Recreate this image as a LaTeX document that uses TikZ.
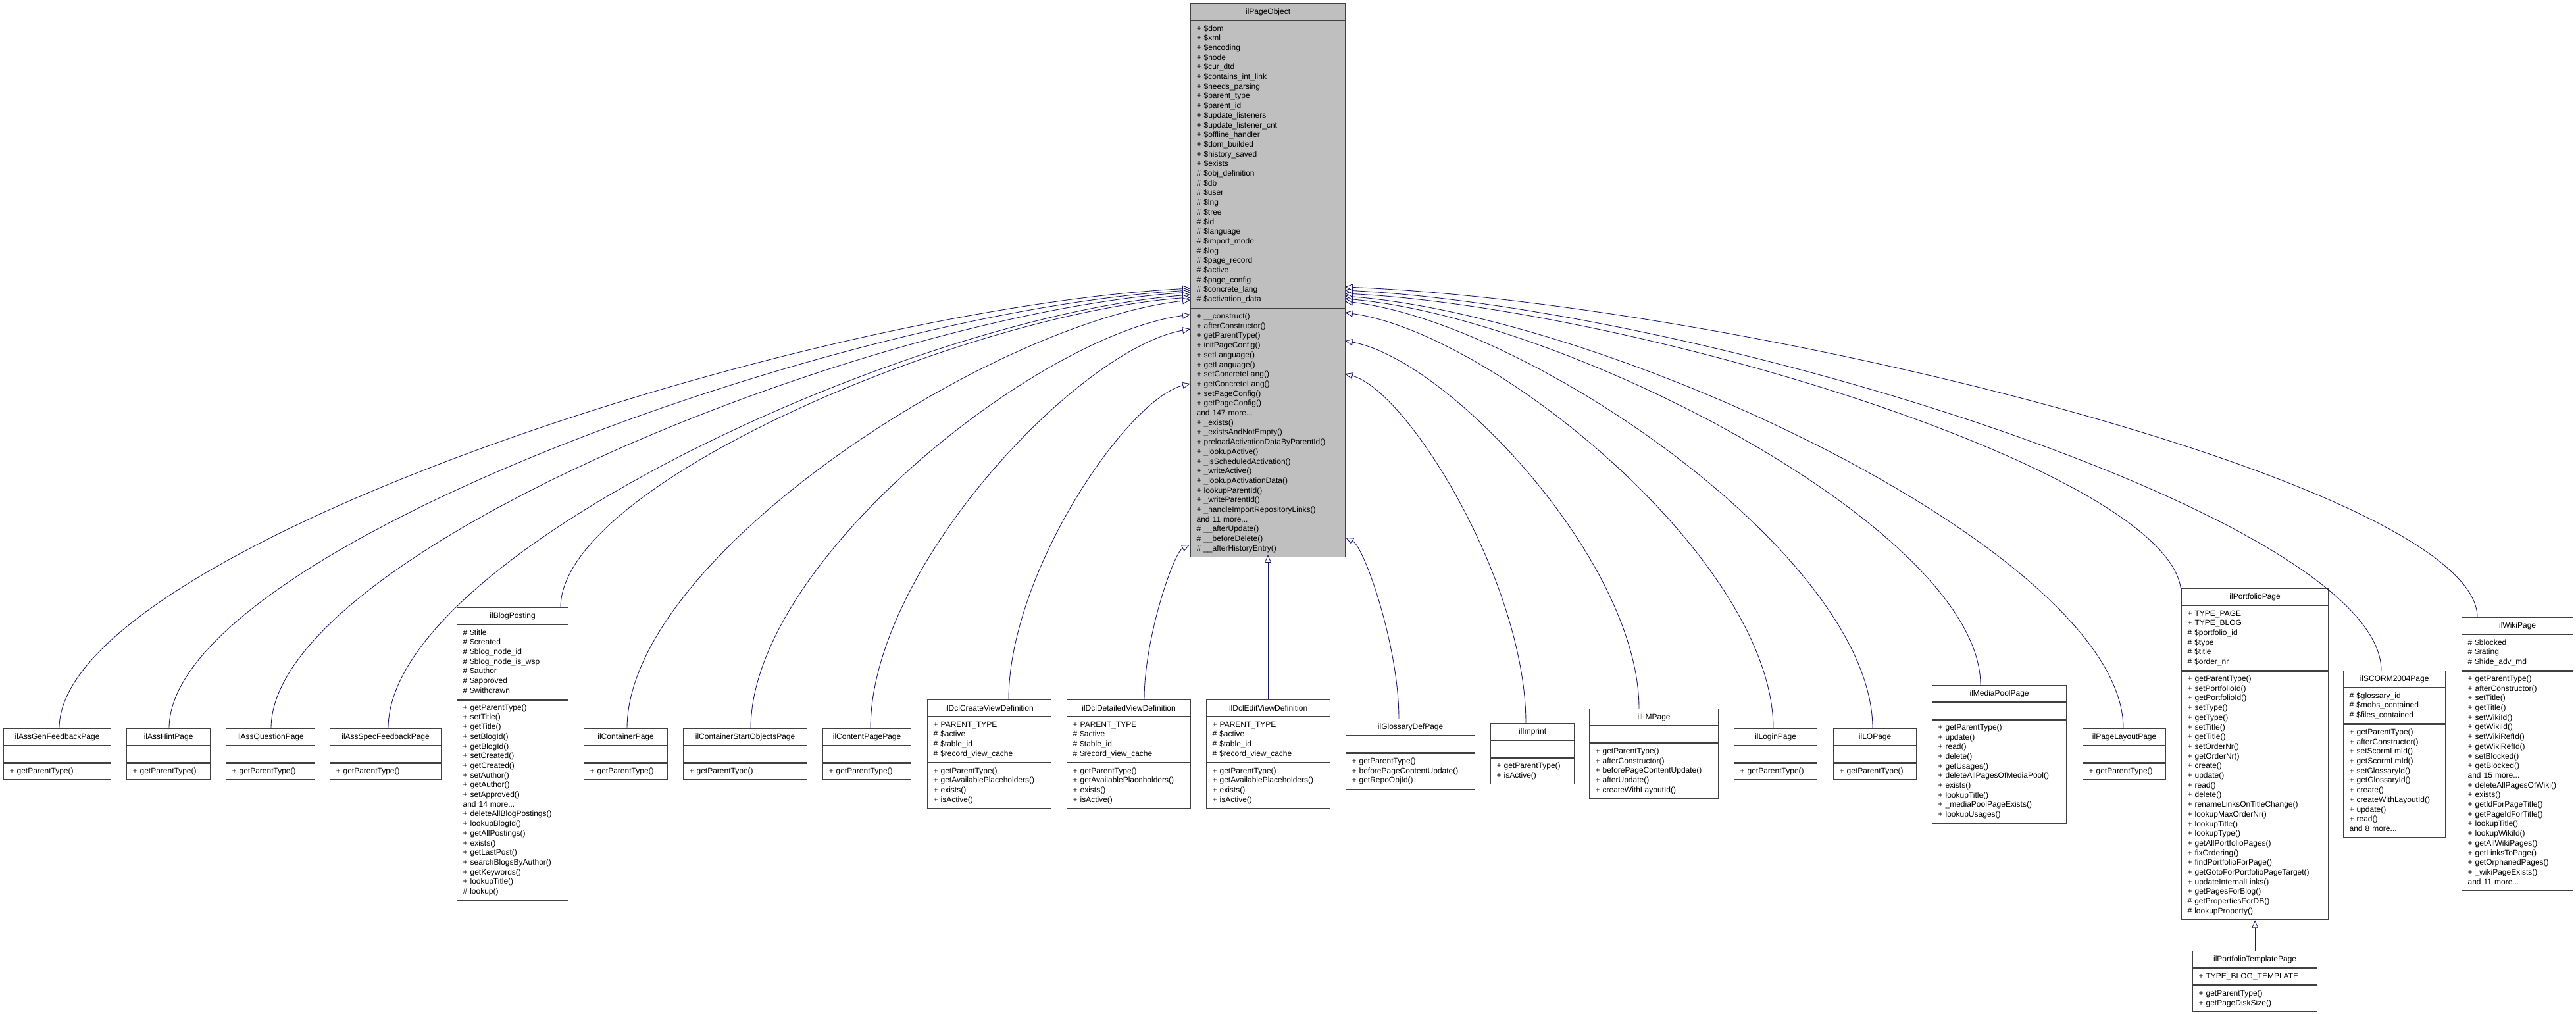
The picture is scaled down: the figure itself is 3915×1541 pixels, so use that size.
\documentclass[tikz,border=0pt]{standalone}
\usepackage{fontspec}
\setmainfont{Liberation Sans}
\usetikzlibrary{arrows.meta}
\definecolor{edgeblue}{HTML}{191970}
\definecolor{boxline}{HTML}{404040}
\definecolor{basefill}{HTML}{BFBFBF}
\tikzset{
  ctitle/.style={draw=boxline, line width=1.2pt, minimum height=25pt, inner sep=0pt, font=\fontsize{12}{14.7}\selectfont, align=center},
  cpart/.style={draw=boxline, line width=1.2pt, minimum height=25pt, inner xsep=9pt, inner ysep=5pt, font=\fontsize{12}{14.7}\selectfont, align=left, execute at begin node=\strut, execute at end node=\strut},
  inh/.style={draw=edgeblue, line width=0.9pt, -{Triangle[open, length=12pt, width=10pt, fill=white]}}
}
% #1 name, #2 x, #3 y, #4 width, #5 title, #6 attrs, #7 methods, #8 fill
\newcommand\umlbox[8]{%
  \pgfmathsetmacro\tw{#4-18}%
  \node[ctitle, fill=#8, minimum width=#4pt, anchor=north west] (#1-t) at (#2,#3) {#5};
  \node[cpart, fill=#8, minimum width=#4pt, text width=\tw pt, anchor=north west] (#1-a) at (#1-t.south west) {#6};
  \node[cpart, fill=#8, minimum width=#4pt, text width=\tw pt, anchor=north west] (#1-m) at (#1-a.south west) {#7};
}
% #1 name, #2 cx, #3 cy, #4 px, #5 py
\newcommand\inh[5]{%
  \pgfmathsetmacro\ay{#3-0.4*(#3-#5)}%
  \pgfmathsetmacro\bx{#4-0.35*(#4-#2)}%
  \pgfmathsetmacro\by{#5+0.05*(#3-#5)}%
  \coordinate (#1-e) at (#2,#3);
  \coordinate (#1-p) at (#4,#5);
  \draw[inh] (#1-e) .. controls (#2,\ay) and (\bx,\by) .. (#1-p);
}
\begin{document}
\begin{tikzpicture}[x=1pt, y=-1pt]
\useasboundingbox (0,0) rectangle (3915,1541);

\umlbox{po}{1809}{5}{235}{ilPageObject}{%
+ \$dom\\+ \$xml\\+ \$encoding\\+ \$node\\+ \$cur\_dtd\\+ \$contains\_int\_link\\+ \$needs\_parsing\\+ \$parent\_type\\+ \$parent\_id\\+ \$update\_listeners\\+ \$update\_listener\_cnt\\+ \$offline\_handler\\+ \$dom\_builded\\+ \$history\_saved\\+ \$exists\\\# \$obj\_definition\\\# \$db\\\# \$user\\\# \$lng\\\# \$tree\\\# \$id\\\# \$language\\\# \$import\_mode\\\# \$log\\\# \$page\_record\\\# \$active\\\# \$page\_config\\\# \$concrete\_lang\\\# \$activation\_data}{%
+ \_\_construct()\\+ afterConstructor()\\+ getParentType()\\+ initPageConfig()\\+ setLanguage()\\+ getLanguage()\\+ setConcreteLang()\\+ getConcreteLang()\\+ setPageConfig()\\+ getPageConfig()\\and 147 more...\\+ \_exists()\\+ \_existsAndNotEmpty()\\+ preloadActivationDataByParentId()\\+ \_lookupActive()\\+ \_isScheduledActivation()\\+ \_writeActive()\\+ \_lookupActivationData()\\+ lookupParentId()\\+ \_writeParentId()\\+ \_handleImportRepositoryLinks()\\and 11 more...\\\# \_\_afterUpdate()\\\# \_\_beforeDelete()\\\# \_\_afterHistoryEntry()}{basefill}

\umlbox{agf}{5}{1107}{163}{ilAssGenFeedbackPage}{}{+ getParentType()}{white}
\umlbox{ahp}{192}{1107}{127}{ilAssHintPage}{}{+ getParentType()}{white}
\umlbox{aqp}{343}{1107}{135}{ilAssQuestionPage}{}{+ getParentType()}{white}
\umlbox{asf}{501}{1107}{169}{ilAssSpecFeedbackPage}{}{+ getParentType()}{white}
\umlbox{blog}{694}{923}{169}{ilBlogPosting}{\# \$title\\\# \$created\\\# \$blog\_node\_id\\\# \$blog\_node\_is\_wsp\\\# \$author\\\# \$approved\\\# \$withdrawn}{%
+ getParentType()\\+ setTitle()\\+ getTitle()\\+ setBlogId()\\+ getBlogId()\\+ setCreated()\\+ getCreated()\\+ setAuthor()\\+ getAuthor()\\+ setApproved()\\and 14 more...\\+ deleteAllBlogPostings()\\+ lookupBlogId()\\+ getAllPostings()\\+ exists()\\+ getLastPost()\\+ searchBlogsByAuthor()\\+ getKeywords()\\+ lookupTitle()\\\# lookup()}{white}
\umlbox{cp}{887}{1107}{127}{ilContainerPage}{}{+ getParentType()}{white}
\umlbox{csop}{1038}{1107}{188}{ilContainerStartObjectsPage}{}{+ getParentType()}{white}
\umlbox{cpp}{1250}{1107}{134}{ilContentPagePage}{}{+ getParentType()}{white}
\umlbox{dcv}{1409}{1063}{188}{ilDclCreateViewDefinition}{+ PARENT\_TYPE\\\# \$active\\\# \$table\_id\\\# \$record\_view\_cache}{+ getParentType()\\+ getAvailablePlaceholders()\\+ exists()\\+ isActive()}{white}
\umlbox{ddv}{1621}{1063}{188}{ilDclDetailedViewDefinition}{+ PARENT\_TYPE\\\# \$active\\\# \$table\_id\\\# \$record\_view\_cache}{+ getParentType()\\+ getAvailablePlaceholders()\\+ exists()\\+ isActive()}{white}
\umlbox{dev}{1833}{1063}{188}{ilDclEditViewDefinition}{+ PARENT\_TYPE\\\# \$active\\\# \$table\_id\\\# \$record\_view\_cache}{+ getParentType()\\+ getAvailablePlaceholders()\\+ exists()\\+ isActive()}{white}
\umlbox{gdp}{2045}{1092}{196}{ilGlossaryDefPage}{}{+ getParentType()\\+ beforePageContentUpdate()\\+ getRepoObjId()}{white}
\umlbox{imp}{2265}{1099}{127}{ilImprint}{}{+ getParentType()\\+ isActive()}{white}
\umlbox{lmp}{2415}{1077}{196}{ilLMPage}{}{+ getParentType()\\+ afterConstructor()\\+ beforePageContentUpdate()\\+ afterUpdate()\\+ createWithLayoutId()}{white}
\umlbox{lgp}{2635}{1107}{126}{ilLoginPage}{}{+ getParentType()}{white}
\umlbox{lop}{2786}{1107}{126}{ilLOPage}{}{+ getParentType()}{white}
\umlbox{mpp}{2936}{1041}{204}{ilMediaPoolPage}{}{+ getParentType()\\+ update()\\+ read()\\+ delete()\\+ getUsages()\\+ deleteAllPagesOfMediaPool()\\+ exists()\\+ lookupTitle()\\+ \_mediaPoolPageExists()\\+ lookupUsages()}{white}
\umlbox{plp}{3165}{1107}{126}{ilPageLayoutPage}{}{+ getParentType()}{white}
\umlbox{pfp}{3315}{894}{223}{ilPortfolioPage}{+ TYPE\_PAGE\\+ TYPE\_BLOG\\\# \$portfolio\_id\\\# \$type\\\# \$title\\\# \$order\_nr}{%
+ getParentType()\\+ setPortfolioId()\\+ getPortfolioId()\\+ setType()\\+ getType()\\+ setTitle()\\+ getTitle()\\+ setOrderNr()\\+ getOrderNr()\\+ create()\\+ update()\\+ read()\\+ delete()\\+ renameLinksOnTitleChange()\\+ lookupMaxOrderNr()\\+ lookupTitle()\\+ lookupType()\\+ getAllPortfolioPages()\\+ fixOrdering()\\+ findPortfolioForPage()\\+ getGotoForPortfolioPageTarget()\\+ updateInternalLinks()\\+ getPagesForBlog()\\\# getPropertiesForDB()\\\# lookupProperty()}{white}
\umlbox{scp}{3561}{1019}{155}{ilSCORM2004Page}{\# \$glossary\_id\\\# \$mobs\_contained\\\# \$files\_contained}{%
+ getParentType()\\+ afterConstructor()\\+ setScormLmId()\\+ getScormLmId()\\+ setGlossaryId()\\+ getGlossaryId()\\+ create()\\+ createWithLayoutId()\\+ update()\\+ read()\\and 8 more...}{white}
\umlbox{wp}{3741}{938}{169}{ilWikiPage}{\# \$blocked\\\# \$rating\\\# \$hide\_adv\_md}{%
+ getParentType()\\+ afterConstructor()\\+ setTitle()\\+ getTitle()\\+ setWikiId()\\+ getWikiId()\\+ setWikiRefId()\\+ getWikiRefId()\\+ setBlocked()\\+ getBlocked()\\and 15 more...\\+ deleteAllPagesOfWiki()\\+ exists()\\+ getIdForPageTitle()\\+ getPageIdForTitle()\\+ lookupTitle()\\+ lookupWikiId()\\+ getAllWikiPages()\\+ getLinksToPage()\\+ getOrphanedPages()\\+ \_wikiPageExists()\\and 11 more...}{white}
\umlbox{ptp}{3332}{1445}{189}{ilPortfolioTemplatePage}{+ TYPE\_BLOG\_TEMPLATE}{+ getParentType()\\+ getPageDiskSize()}{white}

% inheritance connectors
\inh{agf}{90}{1107}{1809}{438}
\inh{ahp}{257}{1107}{1809}{441}
\inh{aqp}{412}{1107}{1809}{444}
\inh{asf}{590}{1107}{1809}{448}
\inh{blog}{852}{923}{1809}{452}
\inh{cp}{953}{1107}{1809}{456}
\inh{csop}{1141}{1107}{1809}{478}
\inh{cpp}{1323}{1107}{1809}{500}
\inh{dcv}{1533}{1063}{1809}{583}
\inh{ddv}{1739}{1063}{1808}{828}
\coordinate (dev-e) at (1927,1063);
\coordinate (dev-p) at (1927,843);
\draw[inh] (dev-e) -- (dev-p);
\inh{gdp}{2126}{1092}{2045}{817}
\inh{imp}{2319}{1099}{2044}{568}
\inh{lmp}{2491}{1077}{2044}{518}
\inh{lgp}{2695}{1107}{2044}{475}
\inh{lop}{2846}{1107}{2044}{458}
\inh{mpp}{3010}{1041}{2044}{454}
\inh{plp}{3227}{1107}{2044}{450}
\inh{pfp}{3315}{903}{2044}{446}
\inh{scp}{3619}{1019}{2044}{441}
\inh{wp}{3765}{938}{2044}{436}
\draw[inh] (ptp-t.north) -- (pfp-m.south);
\end{tikzpicture}
\end{document}
